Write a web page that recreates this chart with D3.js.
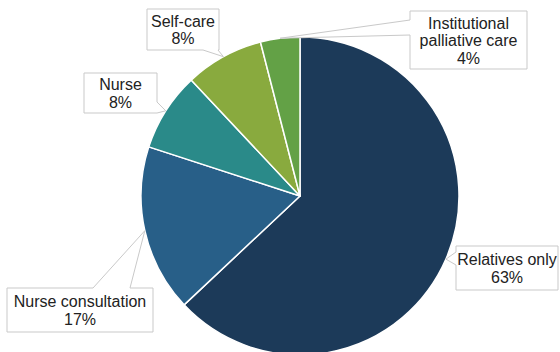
<!DOCTYPE html>
<html>
<head>
<meta charset="utf-8">
<script src="https://cdn.jsdelivr.net/npm/d3@7"></script>
<style>
  html, body { margin: 0; padding: 0; background: #fff; }
  svg { display: block; }
</style>
</head>
<body>
<svg id="chart" width="560" height="352"></svg>
<script>
// Categories and their shares (%), clockwise from 12 o'clock
const categories = ["Relatives only", "Nurse consultation", "Nurse", "Self-care", "Institutional palliative care"];
const values = [63, 17, 8, 8, 4];
// Label text lines (category name broken over lines)
const labelLines = [["Relatives only"], ["Nurse consultation"], ["Nurse"], ["Self-care"], ["Institutional", "palliative care"]];
const colors = ["#1c3a59", "#285f88", "#2a8a89", "#89aa3e", "#63a146"];

// Callout box layout: box rect, side carrying the pointer, and pointer base span on that side
const callouts = [
  { box: [456, 246, 558, 290], side: "left",   base: [252, 265] },
  { box: [7, 288, 153, 332],   side: "top",    base: [93, 130] },
  { box: [84, 73, 157, 113],   side: "right",  base: [102, 113] },
  { box: [147, 9, 219, 50],    side: "bottom", base: [203, 218] },
  { box: [410, 11, 527, 69],   side: "left",   base: [20, 35] }
];

const svg = d3.select("#chart");
const cx = 300, cy = 196, r = 159;

const pie = d3.pie().sort(null).value(d => d.value);
const data = categories.map((c, i) => ({ name: c, value: values[i], i }));
const arcs = pie(data);
const arc = d3.arc().innerRadius(0).outerRadius(r);
const edge = d3.arc().innerRadius(r).outerRadius(r);

const g = svg.append("g").attr("transform", `translate(${cx},${cy})`);
g.selectAll("path.slice")
  .data(arcs)
  .join("path")
  .attr("class", "slice")
  .attr("d", arc)
  .attr("fill", d => colors[d.data.i])
  .attr("stroke", "#fff")
  .attr("stroke-width", 1.5)
  .attr("stroke-linejoin", "round");

// Rectangle callout with a wedge pointer ending at the slice's outer arc midpoint
function calloutPath(c, apex) {
  const [x0, y0, x1, y1] = c.box;
  const [a, b] = c.base;
  const [px, py] = apex;
  const p = d3.path();
  p.moveTo(x0, y0);
  if (c.side === "top") { p.lineTo(a, y0); p.lineTo(px, py); p.lineTo(b, y0); }
  p.lineTo(x1, y0);
  if (c.side === "right") { p.lineTo(x1, a); p.lineTo(px, py); p.lineTo(x1, b); }
  p.lineTo(x1, y1);
  if (c.side === "bottom") { p.lineTo(b, y1); p.lineTo(px, py); p.lineTo(a, y1); }
  p.lineTo(x0, y1);
  if (c.side === "left") { p.lineTo(x0, b); p.lineTo(px, py); p.lineTo(x0, a); }
  p.closePath();
  return p.toString();
}

const labels = svg.append("g");
arcs.forEach(d => {
  const i = d.data.i;
  const c = callouts[i];
  const m = edge.centroid(d);
  const apex = [cx + m[0], cy + m[1]];
  labels.append("path")
    .attr("d", calloutPath(c, apex))
    .attr("fill", "#fff")
    .attr("stroke", "#c9c9c9")
    .attr("stroke-width", 1);
  const lines = labelLines[i].concat([`${d.data.value}%`]);
  const [x0, y0, x1, y1] = c.box;
  const midX = (x0 + x1) / 2;
  const lh = 17.5;
  const firstBase = (y0 + y1) / 2 - (lines.length - 1) * lh / 2 + 6;
  const t = labels.append("text")
    .attr("font-family", "'Liberation Sans', Arial, Helvetica, sans-serif")
    .attr("font-size", 16)
    .attr("fill", "#222")
    .attr("text-anchor", "middle");
  lines.forEach((ln, k) => {
    t.append("tspan").attr("x", midX).attr("y", firstBase + k * lh).text(ln);
  });
});
</script>
</body>
</html>
